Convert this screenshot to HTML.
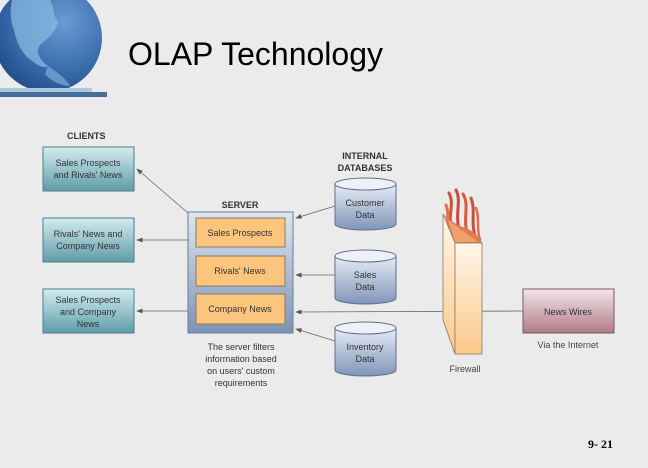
<!DOCTYPE html>
<html><head><meta charset="utf-8"><style>
html,body{margin:0;padding:0;background:#ebebeb;}
svg{display:block;}
text{font-family:"Liberation Sans",Arial,sans-serif;}
</style></head><body>
<svg width="648" height="468" viewBox="0 0 648 468" xmlns="http://www.w3.org/2000/svg">
<defs>
<radialGradient id="globe" cx="0.65" cy="0.35" r="0.7">
<stop offset="0" stop-color="#6a9bd2"/><stop offset="0.6" stop-color="#3d70b0"/><stop offset="1" stop-color="#24508f"/>
</radialGradient>
<linearGradient id="teal" x1="0" y1="0" x2="0" y2="1">
<stop offset="0" stop-color="#d3ecf0"/><stop offset="1" stop-color="#5f9ca8"/>
</linearGradient>
<linearGradient id="srv" x1="0" y1="0" x2="0" y2="1">
<stop offset="0" stop-color="#dfe6f0"/><stop offset="1" stop-color="#7d93b5"/>
</linearGradient>
<linearGradient id="cyl" x1="0" y1="0" x2="0" y2="1">
<stop offset="0" stop-color="#e6ecf5"/><stop offset="1" stop-color="#7f96b8"/>
</linearGradient>
<linearGradient id="news" x1="0" y1="0" x2="0" y2="1">
<stop offset="0" stop-color="#f3e6ea"/><stop offset="1" stop-color="#b07a88"/>
</linearGradient>
<linearGradient id="fw" x1="0" y1="0" x2="0" y2="1">
<stop offset="0" stop-color="#fff6e8"/><stop offset="1" stop-color="#fbc98a"/>
</linearGradient>
<marker id="ar" markerWidth="8" markerHeight="6" refX="7" refY="3" orient="auto"><path d="M0,0 L8,3 L0,6 Z" fill="#555"/></marker>
</defs>
<!-- globe -->
<circle cx="48" cy="38" r="54" fill="url(#globe)"/>
<path d="M12,0 L50,0 C55,8 52,15 58,22 C56,32 48,38 40,45 C35,52 40,60 48,66 C42,70 34,62 28,58 C20,50 16,40 14,30 C10,20 10,10 12,0 Z" fill="#8ab8e0" opacity="0.75"/>
<path d="M48,66 C56,72 66,78 70,86 C60,86 50,80 45,74 Z" fill="#8ab8e0" opacity="0.6"/>
<rect x="0" y="88" width="92" height="4" fill="#a9c8e2"/>
<rect x="0" y="92" width="107" height="5" fill="#4a6f96"/>
<text x="128" y="65" font-size="32" fill="#000">OLAP Technology</text>
<!-- clients -->
<text x="67" y="139" font-size="9" font-weight="bold" fill="#333">CLIENTS</text>
<g font-size="9" fill="#333" text-anchor="middle">
<rect x="43" y="147" width="91" height="44" fill="url(#teal)" stroke="#4d7f88"/>
<text x="88" y="166">Sales Prospects</text><text x="88" y="178">and Rivals' News</text>
<rect x="43" y="218" width="91" height="44" fill="url(#teal)" stroke="#4d7f88"/>
<text x="88" y="237">Rivals' News and</text><text x="88" y="249">Company News</text>
<rect x="43" y="289" width="91" height="44" fill="url(#teal)" stroke="#4d7f88"/>
<text x="88" y="303">Sales Prospects</text><text x="88" y="315">and Company</text><text x="88" y="327">News</text>
</g>
<!-- server -->
<text x="240" y="208" font-size="9" font-weight="bold" fill="#333" text-anchor="middle">SERVER</text>
<rect x="188" y="212" width="105" height="121" fill="url(#srv)" stroke="#6b7d99"/>
<g font-size="9" fill="#333" text-anchor="middle">
<rect x="196" y="218" width="89" height="29" fill="#fcc57e" stroke="#8a7a60"/><text x="240" y="236">Sales Prospects</text>
<rect x="196" y="256" width="89" height="30" fill="#fcc57e" stroke="#8a7a60"/><text x="240" y="274">Rivals' News</text>
<rect x="196" y="294" width="89" height="30" fill="#fcc57e" stroke="#8a7a60"/><text x="240" y="312">Company News</text>
<text x="241" y="350">The server filters</text><text x="241" y="362">information based</text><text x="241" y="374">on users' custom</text><text x="241" y="386">requirements</text>
</g>
<g stroke="#666" stroke-width="0.8" fill="none" marker-end="url(#ar)">
<line x1="188" y1="213" x2="137" y2="169"/>
<line x1="188" y1="240" x2="137" y2="240"/>
<line x1="188" y1="311" x2="137" y2="311"/>
<line x1="335" y1="206" x2="296" y2="218"/>
<line x1="335" y1="275" x2="296" y2="275"/>
<line x1="523" y1="311" x2="296" y2="312"/>
<line x1="335" y1="341" x2="296" y2="329"/>
</g>
<!-- databases -->
<text x="365" y="159" font-size="9" font-weight="bold" fill="#333" text-anchor="middle">INTERNAL</text>
<text x="365" y="171" font-size="9" font-weight="bold" fill="#333" text-anchor="middle">DATABASES</text>
<g font-size="9" fill="#333" text-anchor="middle">
<g><path d="M335,184 L335,224 A30.5,6 0 0 0 396,224 L396,184" fill="url(#cyl)" stroke="#5d6f8c"/><ellipse cx="365.5" cy="184" rx="30.5" ry="6" fill="#eef2f8" stroke="#5d6f8c"/><text x="365" y="206">Customer</text><text x="365" y="218">Data</text></g>
<g><path d="M335,256 L335,298 A30.5,6 0 0 0 396,298 L396,256" fill="url(#cyl)" stroke="#5d6f8c"/><ellipse cx="365.5" cy="256" rx="30.5" ry="6" fill="#eef2f8" stroke="#5d6f8c"/><text x="365" y="278">Sales</text><text x="365" y="290">Data</text></g>
<g><path d="M335,328 L335,370 A30.5,6 0 0 0 396,370 L396,328" fill="url(#cyl)" stroke="#5d6f8c"/><ellipse cx="365.5" cy="328" rx="30.5" ry="6" fill="#eef2f8" stroke="#5d6f8c"/><text x="365" y="350">Inventory</text><text x="365" y="362">Data</text></g>
</g>
<!-- firewall flames -->
<g fill="none" stroke-linecap="round">
<path d="M449,193 C455,205 447,215 452,232" stroke="#d0503a" stroke-width="3"/>
<path d="M456,190 C462,202 454,212 460,236" stroke="#c84a38" stroke-width="3"/>
<path d="M463,194 C470,206 462,218 468,238" stroke="#d85a40" stroke-width="3"/>
<path d="M471,198 C476,210 470,222 476,240" stroke="#c8503a" stroke-width="3"/>
<path d="M446,205 C450,215 446,222 449,230" stroke="#e07050" stroke-width="3"/>
<path d="M476,208 C480,218 476,228 480,240" stroke="#e0704c" stroke-width="2.5"/>
</g>
<path d="M444,214 C450,222 460,226 470,230 C476,234 480,238 482,243 L455,243 Z" fill="#e47a54"/>
<path d="M448,220 L478,242 L455,242 Z" fill="#f0a070"/>
<path d="M443,214 L455,243 L455,354 L443,320 Z" fill="url(#fw)" stroke="#8a7a6a" stroke-width="0.8"/>
<rect x="455" y="243" width="27" height="111" fill="url(#fw)" stroke="#8a7a6a" stroke-width="0.8"/>
<text x="465" y="372" font-size="9" fill="#444" text-anchor="middle">Firewall</text>
<!-- news wires -->
<rect x="523" y="289" width="91" height="44" fill="url(#news)" stroke="#7a5a62"/>
<text x="568" y="315" font-size="9" fill="#333" text-anchor="middle">News Wires</text>
<text x="568" y="348" font-size="9" fill="#444" text-anchor="middle">Via the Internet</text>
<text x="588" y="448" font-size="12" font-weight="bold" style="font-family:'Liberation Serif',serif">9- 21</text>
</svg>
</body></html>
